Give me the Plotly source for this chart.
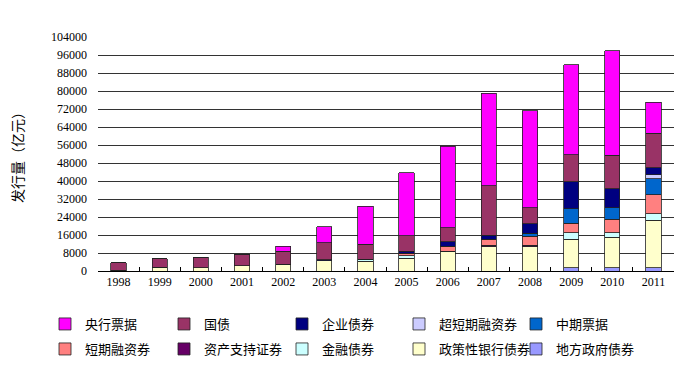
import plotly.graph_objects as go

years = ["1998", "1999", "2000", "2001", "2002", "2003", "2004",
         "2005", "2006", "2007", "2008", "2009", "2010", "2011"]

# 亿元
local_gov = [0, 0, 0, 0, 0, 0, 0, 0, 0, 0, 0, 1500, 1500, 1500]
policy_bank = [300, 1600, 1500, 2370, 2960, 4500, 4300, 5610, 8570, 10780, 10780, 12550, 13590, 20970]
financial = [0, 0, 0, 0, 0, 0, 700, 1180, 0, 0, 0, 2950, 1920, 2950]
abs_sec = [0, 0, 0, 0, 0, 0, 0, 0, 300, 600, 600, 0, 0, 0]
short_cp = [0, 0, 0, 0, 0, 0, 0, 1180, 2220, 2660, 3990, 4280, 5910, 8570]
mtn = [0, 0, 0, 0, 0, 0, 0, 0, 0, 0, 1480, 6350, 5170, 6940]
super_cp = [0, 0, 0, 0, 0, 0, 0, 0, 0, 0, 0, 0, 0, 1920]
corporate = [0, 0, 0, 0, 0, 600, 300, 740, 1920, 1770, 4140, 11960, 8570, 2950]
treasury = [3300, 3950, 4700, 5180, 5920, 7400, 6700, 6940, 6200, 22160, 7090, 12110, 14770, 15510]
cb_bills = [0, 0, 0, 0, 2070, 7200, 16800, 28060, 36330, 41060, 43130, 39900, 46380, 13740]

y_ticks = list(range(0, 104001, 8000))

# stacking order: bottom -> top
series = [
    ("地方政府债券", local_gov, "#9999FF"),
    ("政策性银行债券", policy_bank, "#FFFFCC"),
    ("金融债券", financial, "#CCFFFF"),
    ("资产支持证券", abs_sec, "#660066"),
    ("短期融资券", short_cp, "#FF8080"),
    ("中期票据", mtn, "#0066CC"),
    ("超短期融资券", super_cp, "#CCCCFF"),
    ("企业债券", corporate, "#000080"),
    ("国债", treasury, "#993366"),
    ("央行票据", cb_bills, "#FF00FF"),
]

# legend placement (column, row) per series, matching the reference grid
legend_slots = {
    "央行票据": (0, 0), "国债": (1, 0), "企业债券": (2, 0), "超短期融资券": (3, 0), "中期票据": (4, 0),
    "短期融资券": (0, 1), "资产支持证券": (1, 1), "金融债券": (2, 1), "政策性银行债券": (3, 1), "地方政府债券": (4, 1),
}
col_px = [37, 156, 274, 391, 508]   # legend box left edges (px)
row_px = [316, 341]                 # legend row centres (px)
W, H = 682, 370

fig = go.Figure()
legend_layouts = {}
for i, (name, vals, color) in enumerate(series):
    lname = "legend" if i == 0 else f"legend{i+1}"
    fig.add_trace(go.Bar(
        x=years, y=vals, name=name, legend=lname,
        marker=dict(color=color, line=dict(color="#222222", width=0.8)),
    ))
    c, r = legend_slots[name]
    legend_layouts[lname] = dict(
        xref="container", yref="container",
        x=col_px[c] / W, y=1 - row_px[r] / H,
        xanchor="left", yanchor="middle",
        bgcolor="rgba(0,0,0,0)", borderwidth=0,
        font=dict(family="Noto Sans CJK SC", size=13, color="#000"),
        itemwidth=30,
    )

fig.update_layout(
    width=W, height=H,
    barmode="stack", bargap=0.63, showlegend=True,
    plot_bgcolor="white", paper_bgcolor="white",
    margin=dict(l=90, r=16, t=29, b=107, autoexpand=False),
    font=dict(family="Liberation Serif", size=12, color="#000"),
    **legend_layouts,
)
fig.update_xaxes(
    type="category", showline=True, linecolor="#000", linewidth=1,
    ticks="inside", tickson="boundaries", ticklen=4, tickcolor="#000",
    ticklabelstandoff=0, showgrid=False,
    tickfont=dict(family="Liberation Serif", size=12, color="#000"),
)
fig.update_yaxes(
    range=[0, 104000], tickvals=y_ticks, ticktext=[str(v) for v in y_ticks],
    showgrid=True, gridcolor="#333333", gridwidth=1, zeroline=False,
    showline=False, ticks="", ticklabelstandoff=10,
    tickfont=dict(family="Liberation Serif", size=12, color="#000"),
)
fig.add_annotation(
    xref="paper", yref="paper", x=(9 - 90) / 576, y=0.5,
    text="发行量（亿元）", textangle=-90, showarrow=False,
    xanchor="center", yanchor="middle",
    font=dict(family="Noto Sans CJK SC", size=14, color="#000"),
)

fig.write_html("out.html")
